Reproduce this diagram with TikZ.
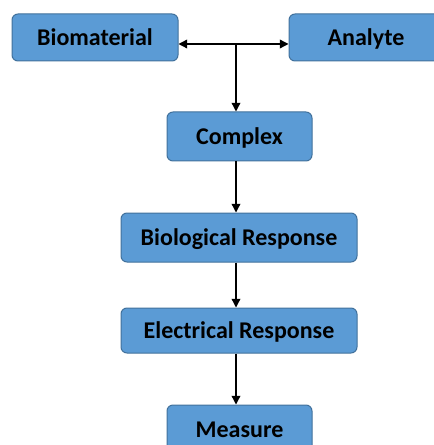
\documentclass[tikz,border=0pt]{standalone}
\usepackage{fontspec}
\setmainfont{Carlito}
\usetikzlibrary{arrows.meta}
\definecolor{boxfill}{HTML}{5B9BD5}
\definecolor{boxline}{HTML}{41719C}
\begin{document}
\begin{tikzpicture}[x=0.75pt,y=-0.75pt,
  stepbox/.style={draw=boxline, fill=boxfill, rounded corners=4.5pt, line width=0.75pt,
    font=\fontsize{18}{20}\selectfont\bfseries, text=black, inner sep=0pt, text depth=0pt},
  tip/.tip={Triangle[length=6.5pt,width=6.5pt]},
  link/.style={-tip, line width=1pt, draw=black}]
\useasboundingbox (0,0) rectangle (434,445);
\clip (0,0) rectangle (434,445);

% top row
\node[stepbox, minimum width=124.5pt, minimum height=35.25pt] (bio) at (95,37.5) {Biomaterial};
\node[stepbox, minimum width=115.5pt, minimum height=35.25pt] (ana) at (366,37.5) {Analyte};

% vertical chain
\node[stepbox, minimum width=108.75pt, minimum height=36.75pt] (cx)  at (239.5,136.5) {Complex};
\node[stepbox, minimum width=177pt,    minimum height=36.75pt] (br)  at (239,237.5) {Biological Response};
\node[stepbox, minimum width=177pt,    minimum height=33.75pt, text depth=-3pt] (er) at (239,330.5) {Electrical Response};
\node[stepbox, minimum width=108.75pt, minimum height=36.75pt] (ms)  at (239.5,429.5) {Measure};

% connectors
\coordinate (split) at (236,44);
\draw[tip-tip, line width=1pt] (bio.east |- split) -- (ana.west |- split);
\draw[link] (split) -- (split |- cx.north);
\draw[link] (split |- cx.south) -- (split |- br.north);
\draw[link] (split |- br.south) -- (split |- er.north);
\draw[link] (split |- er.south) -- (split |- ms.north);
\end{tikzpicture}
\end{document}
